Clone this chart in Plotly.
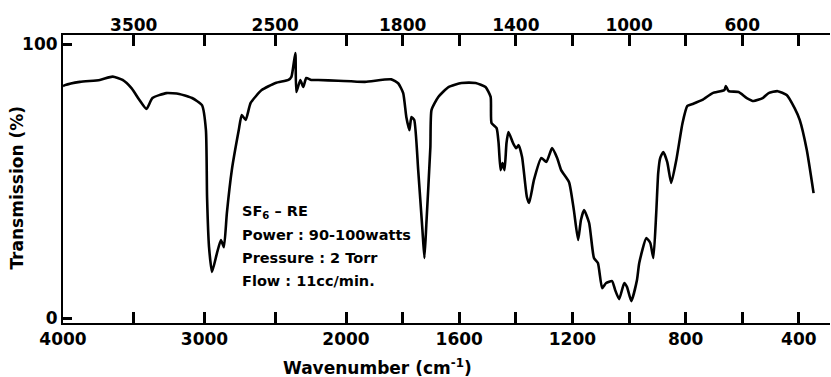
import plotly.graph_objects as go

# ---- data ----
wavenumber = [4000, 3986, 3881, 3740, 3649, 3579, 3516, 3460, 3410, 3368, 3270, 3179, 3088,
              3018, 2990, 2982, 2968, 2947, 2912, 2884, 2863, 2842, 2807, 2758, 2737, 2709,
              2674, 2596, 2498, 2407, 2386, 2358, 2351, 2323, 2302, 2281, 2246, 2197, 2056,
              1933, 1840, 1815, 1798, 1787, 1776, 1769, 1759, 1745, 1730, 1723, 1716, 1702,
              1698, 1674, 1638, 1592, 1542, 1507, 1489, 1486, 1468, 1461, 1454, 1447, 1440,
              1433, 1426, 1410, 1399, 1390, 1378, 1361, 1353, 1336, 1310, 1292, 1272, 1254,
              1240, 1212, 1195, 1180, 1170, 1159, 1141, 1124, 1110, 1095, 1081, 1060, 1049,
              1035, 1017, 1007, 992, 972, 964, 939, 925, 914, 904, 897, 890, 879, 865, 851,
              833, 811, 794, 776, 741, 705, 663, 658, 648, 613, 584, 560, 528, 507, 475, 443,
              415, 397, 372, 348]
transmission = [84.6, 85.0, 86.2, 86.9, 88.1, 86.9, 83.9, 79.6, 76.3, 80.3, 82.1, 81.8, 80.3,
                77.7, 68.6, 44.2, 25.9, 16.8, 23.7, 28.5, 25.9, 38.3, 54.0, 68.6, 74.1, 72.3,
                78.5, 83.2, 85.8, 86.9, 88.0, 96.7, 82.5, 86.9, 84.3, 87.6, 86.9, 86.9, 86.6,
                86.2, 87.1, 85.6, 82.1, 73.4, 68.6, 73.4, 72.3, 54.0, 32.1, 21.9, 34.7, 62.4,
                75.9, 80.7, 84.3, 85.8, 85.8, 84.3, 80.7, 71.2, 69.3, 63.9, 54.0, 56.6, 54.0,
                63.9, 67.9, 63.9, 62.0, 63.1, 58.8, 44.2, 42.0, 50.4, 58.4, 57.0, 62.0, 58.4,
                54.0, 49.6, 39.4, 28.5, 35.8, 39.4, 34.7, 21.9, 20.1, 10.9, 12.8, 13.5, 10.2,
                6.9, 12.8, 11.3, 6.2, 13.9, 20.1, 29.2, 27.4, 21.9, 38.3, 52.9, 58.4, 60.6,
                56.9, 49.3, 57.7, 71.2, 77.4, 78.1, 79.6, 82.1, 83.2, 84.7, 82.8, 82.5, 80.3,
                79.2, 80.3, 82.1, 82.8, 81.4, 76.6, 72.3, 61.3, 45.6]

tick_wavenumbers = [4000, 3500, 3000, 2500, 2000, 1800, 1600, 1400, 1200, 1000, 800, 600, 400]
bottom_labels = ["4000", "", "3000", "", "2000", "", "1600", "", "1200", "", "800", "", "400"]
top_labels = ["", "3500", "", "2500", "", "1800", "", "1400", "", "1000", "", "600", ""]
y_ticks = [0, 100]
x_end = 290  # right end of the wavenumber scale
y_range = [-1.8, 103.3]

notes = ["SF<sub>6</sub> – RE", "Power : 90-100watts", "Pressure : 2 Torr", "Flow : 11cc/min."]
x_title = "Wavenumber (cm<sup>-1</sup>)"
y_title = "Transmission (%)"

SCALE_BREAK = 2000


def to_axis(w):
    """Standard IR chart scale: expanded by 2x below 2000 cm-1."""
    if w >= SCALE_BREAK:
        return 4000 - w
    return (4000 - SCALE_BREAK) + 2 * (SCALE_BREAK - w)


def bold(labels):
    return [f"<b>{t}</b>" if t else "" for t in labels]


u = [to_axis(w) for w in wavenumber]
tick_u = [to_axis(w) for w in tick_wavenumbers]
x_range = [to_axis(4000), to_axis(x_end)]

FONT = "DejaVu Sans"
fig = go.Figure()
fig.add_trace(go.Scatter(x=u, y=transmission, mode="lines",
                         line=dict(color="black", width=2.6, shape="spline", smoothing=0.5),
                         hoverinfo="skip", showlegend=False))
fig.add_trace(go.Scatter(x=u, y=transmission, mode="lines", xaxis="x2",
                         line=dict(color="rgba(0,0,0,0)", width=0), hoverinfo="skip",
                         showlegend=False))

tick_font = dict(family=FONT, size=17, color="black")

fig.update_layout(
    width=831, height=377,
    margin=dict(l=63, r=1, t=35, b=54),
    paper_bgcolor="white", plot_bgcolor="white",
    xaxis=dict(range=x_range, tickmode="array", tickvals=tick_u,
               ticktext=bold(bottom_labels), side="bottom", ticks="inside",
               ticklen=11, tickwidth=2.5, tickcolor="black", showline=True,
               linecolor="black", linewidth=2, mirror="allticks", gridcolor="white",
               tickfont=tick_font),
    xaxis2=dict(range=x_range, tickmode="array", tickvals=tick_u,
                ticktext=bold(top_labels), side="top", overlaying="x", ticks="",
                showline=False, showgrid=False, zeroline=False, tickfont=tick_font),
    yaxis=dict(range=y_range, tickmode="array", tickvals=y_ticks,
               ticktext=bold([str(v) for v in y_ticks]), ticks="inside", ticklen=9,
               tickwidth=2.5, tickcolor="black", showline=True, linecolor="black",
               linewidth=2, gridcolor="white", zerolinecolor="white",
               tickfont=tick_font),
)

annotations = [
    dict(text=f"<b>{x_title}</b>", xref="paper", yref="paper", x=0.41, y=-0.153,
         xanchor="center", yanchor="middle", showarrow=False,
         font=dict(family=FONT, size=17, color="black")),
    dict(text=f"<b>{y_title}</b>", xref="paper", yref="paper", x=-0.06, y=0.47,
         xanchor="center", yanchor="middle", textangle=-90, showarrow=False,
         font=dict(family=FONT, size=17, color="black")),
]
note_y = [212, 235, 258, 281]
for txt, py in zip(notes, note_y):
    annotations.append(dict(text=f"<b>{txt}</b>", xref="paper", yref="paper",
                            x=(240 - 63) / 767, y=(323 - py) / 288,
                            xanchor="left", yanchor="middle", showarrow=False,
                            font=dict(family=FONT, size=14.5, color="black")))
fig.update_layout(annotations=annotations)

fig.write_html("out.html")
